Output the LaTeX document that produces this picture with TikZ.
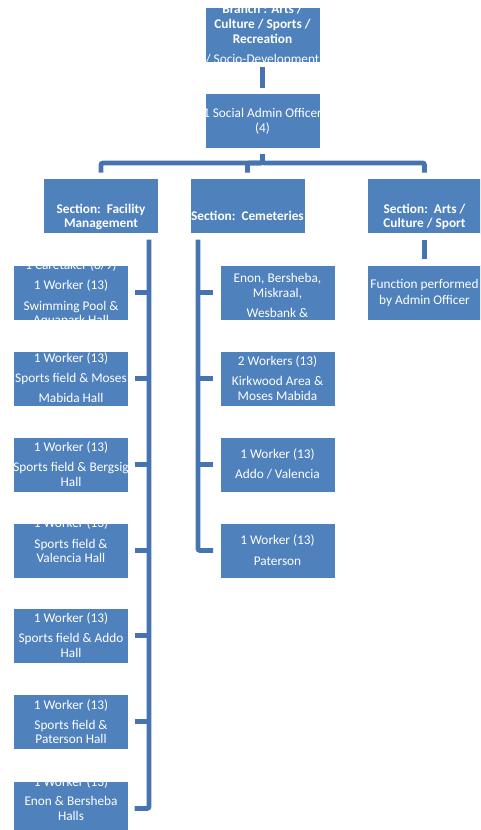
\documentclass[tikz,border=0pt]{standalone}
\usepackage{fontspec}
\setmainfont{Carlito}
\usetikzlibrary{calc}

\definecolor{boxblue}{RGB}{79,129,189}
\definecolor{linkblue}{RGB}{70,116,176}

\tikzset{
  orgbox/.style={fill=boxblue, draw=white, line width=0.6pt,
    minimum width=115pt, minimum height=55pt, inner sep=0pt, outer sep=0pt},
  txtline/.style={text=white, inner sep=0pt, text height=9pt, text depth=0.4pt,
    font=\fontsize{13.3}{14.6}\selectfont},
  boldline/.style={txtline, font=\fontsize{13.3}{14.6}\selectfont\bfseries},
  conn/.style={draw=linkblue, line width=4.8pt, rounded corners=2pt},
}

% #1 name, #2 centre x, #3 centre y, #4 line style, #5 list of y/text lines
% the text lines are clipped to the box, as in an overfull org-chart shape
\newcommand\orgunit[5]{%
  \node[orgbox] (#1) at (#2,#3) {};
  \begin{scope}
    \clip (#1.south west) rectangle (#1.north east);
    \foreach \ly/\lt [count=\k] in {#5}
      \node[#4] (#1-\k) at (#2,\ly) {\lt};
  \end{scope}}

\begin{document}
\begin{tikzpicture}[x=1pt, y=-1pt]
  \clip (0,0) rectangle (480,830);

  % top of the hierarchy
  \orgunit{branch}{262.5}{34.5}{boldline}{9.5/{Branch : Arts /}, 24/{Culture / Sports /}, 39/{Recreation}}
  \begin{scope}
    \clip (branch.south west) rectangle (branch.north east);
    \node[txtline] (branch-4) at (262.5,59.5) {/ Socio-Development};
  \end{scope}
  \orgunit{admin}{262.5}{120.5}{txtline}{113/{1 Social Admin Officer}, 128/{(4)}}

  % sections
  \orgunit{fac}{101}{206}{boldline}{209/{Section:~~Facility}, 223/{Management}}
  \orgunit{cem}{247.5}{206}{boldline}{216/{Section:~~Cemeteries}}
  \orgunit{arts}{424.5}{206}{boldline}{209/{Section:~~Arts /}, 223/{Culture / Sport}}
  \orgunit{func}{424.5}{292.5}{txtline}{284/{Function performed}, 300/{by Admin Officer}}

  % facility management staff
  \orgunit{f1}{71}{292.5}{txtline}{265/{1 Caretaker (8/9)}, 285/{1 Worker (13)}, 306/{Swimming Pool \&}, 320.5/{Aquapark Hall}}
  \orgunit{f2}{71}{378.5}{txtline}{358/{1 Worker (13)}, 378/{Sports field \& Moses}, 398/{Mabida Hall}}
  \orgunit{f3}{71}{464.5}{txtline}{447/{1 Worker (13)}, 467/{Sports field \& Bergsig}, 482/{Hall}}
  \orgunit{f4}{71}{550.5}{txtline}{523/{1 Worker (13)}, 544/{Sports field \&}, 558/{Valencia Hall}}
  \orgunit{f5}{71}{635.5}{txtline}{618/{1 Worker (13)}, 638/{Sports field \& Addo}, 653/{Hall}}
  \orgunit{f6}{71}{721.5}{txtline}{705/{1 Worker (13)}, 725/{Sports field \&}, 739/{Paterson Hall}}
  \orgunit{f7}{71}{808.5}{txtline}{782/{1 Worker (13)}, 801/{Enon \& Bersheba}, 816/{Halls}}

  % cemetery staff
  \orgunit{c1}{277.5}{292.5}{txtline}{278/{Enon, Bersheba,}, 293/{Miskraal,}, 313/{Wesbank \&}}
  \orgunit{c2}{277.5}{378.5}{txtline}{361/{2 Workers (13)}, 381/{Kirkwood Area \&}, 396/{Moses Mabida}}
  \orgunit{c3}{277.5}{464.5}{txtline}{454/{1 Worker (13)}, 474/{Addo / Valencia}}
  \orgunit{c4}{277.5}{550.5}{txtline}{540/{1 Worker (13)}, 561/{Paterson}}

  % connectors
  \draw[conn, shorten <=5pt, shorten >=5pt] (branch.south) -- (admin.south |- admin.north);
  \coordinate (hub) at (262.5,163);
  \foreach \s in {fac,cem,arts}
    \draw[conn, shorten <=6pt, shorten >=6pt] (admin.south) -- (hub) -| (\s.north);
  \draw[conn, shorten <=6pt, shorten >=6pt] (arts.south) -- (func.north);

  \coordinate (fdown) at (149,233.5);
  \draw[conn, shorten <=6pt, shorten >=6pt] (fdown) |- (f7.east);
  \foreach \n in {f1,f2,f3,f4,f5,f6}
    \draw[conn, shorten <=6pt] (\n.east) -- (\n.east -| fdown);

  \coordinate (cdown) at (198,233.5);
  \draw[conn, shorten <=6pt, shorten >=7pt] (cdown) |- (c4.west);
  \foreach \n in {c1,c2,c3}
    \draw[conn, shorten <=7pt] (\n.west) -- (\n.west -| cdown);
\end{tikzpicture}
\end{document}
